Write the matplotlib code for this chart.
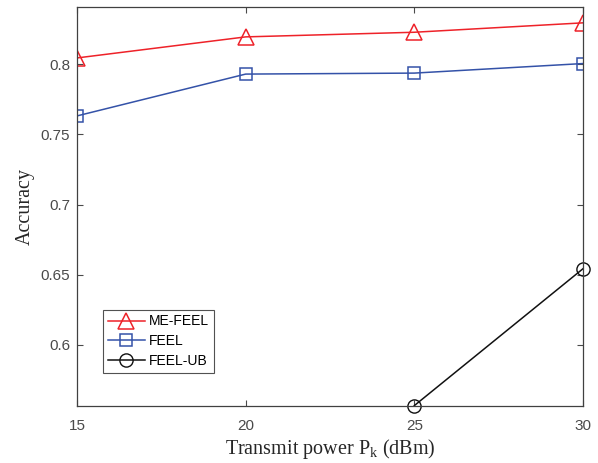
import numpy as np
import matplotlib.pyplot as plt

# Datos
power = [15, 20, 25, 30]
me_feel = [0.8045, 0.8195, 0.8228, 0.8295]
feel = [0.7632, 0.7930, 0.7937, 0.8005]
feel_ub = [np.nan, np.nan, 0.5568, 0.6543]

fig = plt.figure(figsize=(5.98, 4.63), dpi=100)
ax = fig.add_axes([0.1288, 0.123, 0.846, 0.861])

ax.plot(power, me_feel, color='#ee2229', lw=1.1, marker='^', ms=11,
        mfc='none', mew=1.1, label='ME-FEEL')
ax.plot(power, feel, color='#3452a8', lw=1.1, marker='s', ms=8,
        mfc='none', mew=1.1, label='FEEL')
ax.plot(power, feel_ub, color='#111111', lw=1.1, marker='o', ms=9.5,
        mfc='none', mew=1.0, label='FEEL-UB', clip_on=False)

ax.set_xlim(15, 30)
ax.set_ylim(0.5565, 0.8405)
ax.set_xticks([15, 20, 25, 30])
ax.set_yticks([0.6, 0.65, 0.7, 0.75, 0.8])
ax.set_yticklabels(['0.6', '0.65', '0.7', '0.75', '0.8'])

ax.tick_params(direction='in', top=True, right=True, length=4, width=0.8,
               labelsize=11, colors='#4a4a4a', pad=5)
ax.tick_params(axis='x', pad=9)
for lab in ax.get_xticklabels() + ax.get_yticklabels():
    lab.set_family('Liberation Sans')
for s in ax.spines.values():
    s.set_color('#404040')
    s.set_linewidth(0.9)

ax.set_xlabel('Transmit power P$_\\mathregular{k}$ (dBm)', family='Liberation Serif',
              fontsize=14.5, color='#262626', labelpad=3)
ax.set_ylabel('Accuracy', family='Liberation Serif', fontsize=14.5,
              color='#262626', labelpad=4)

leg = ax.legend(loc='lower left', bbox_to_anchor=(0.051, 0.083), fancybox=False,
                edgecolor='#262626', prop={'family': 'Liberation Sans', 'size': 10},
                handlelength=2.7, handletextpad=0.3, borderpad=0.35,
                labelspacing=0.42, borderaxespad=0)
leg.get_frame().set_linewidth(0.8)

fig.savefig('out.png', dpi=100)
